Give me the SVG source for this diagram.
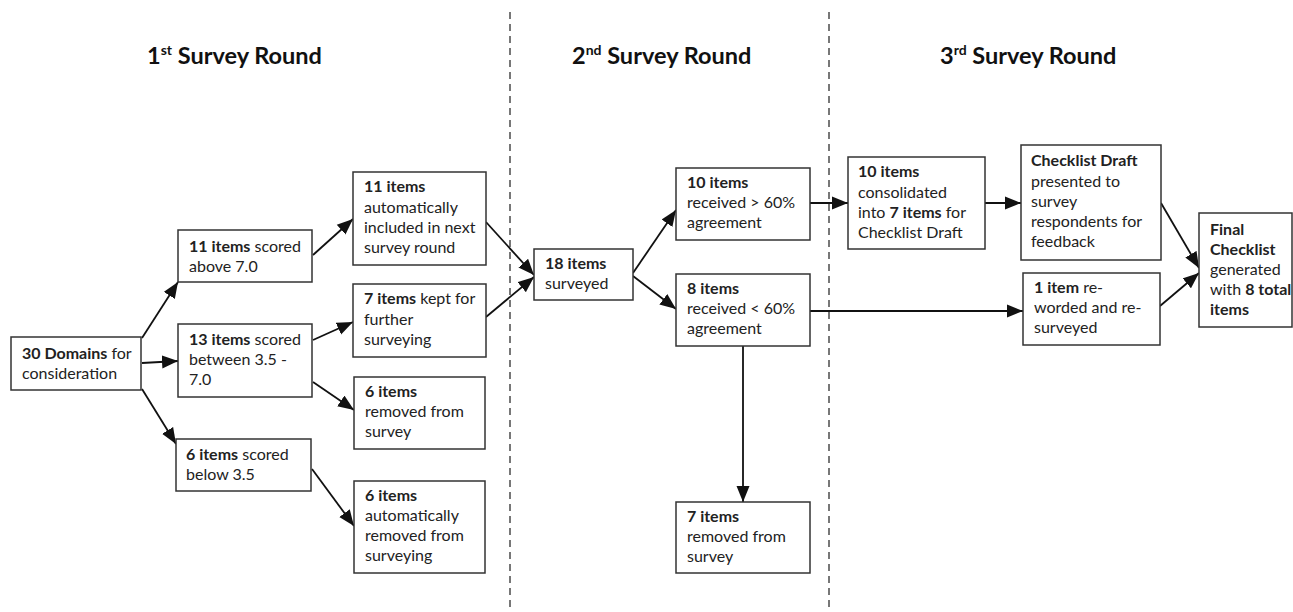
<svg xmlns="http://www.w3.org/2000/svg" width="1293" height="612" viewBox="0 0 1293 612">
<defs>
<marker id="ah" markerUnits="userSpaceOnUse" markerWidth="17" markerHeight="14" refX="16" refY="7" orient="auto">
<path d="M0,0.5 L16,7 L0,13.5 z" fill="#111"/>
</marker>
<style>
.box{fill:#fff;stroke:#333;stroke-width:1.5}
.t{font-family:Lato,"Open Sans","Liberation Sans",sans-serif;font-size:16px;fill:#222}
.b{font-weight:bold}
.title{font-family:Lato,"Open Sans","Liberation Sans",sans-serif;font-size:23.5px;font-weight:bold;fill:#111}
.sup{font-size:14px}
.c{fill:none;stroke:#111;stroke-width:1.8;marker-end:url(#ah)}
.div{stroke:#777;stroke-width:2;stroke-dasharray:7 5}
</style>
</defs>
<rect width="1293" height="612" fill="#fff"/>
<g id="dividers">
<line class="div" x1="510" y1="12" x2="510" y2="612"/>
<line class="div" x1="829" y1="12" x2="829" y2="612"/>
</g>
<g id="titles">
<text class="title" x="147" y="64">1<tspan class="sup" dy="-9">st</tspan><tspan dy="9"> Survey Round</tspan></text>
<text class="title" x="572" y="64">2<tspan class="sup" dy="-9">nd</tspan><tspan dy="9"> Survey Round</tspan></text>
<text class="title" x="940" y="64">3<tspan class="sup" dy="-9">rd</tspan><tspan dy="9"> Survey Round</tspan></text>
</g>
<g id="connectors">
<line class="c" x1="142" y1="338" x2="178" y2="282"/>
<line class="c" x1="142" y1="363" x2="178" y2="361"/>
<line class="c" x1="142" y1="389" x2="176" y2="444"/>
<line class="c" x1="313" y1="255" x2="353" y2="219"/>
<line class="c" x1="313" y1="340" x2="353" y2="322"/>
<line class="c" x1="313" y1="382" x2="354" y2="410"/>
<line class="c" x1="312" y1="469" x2="354" y2="526"/>
<line class="c" x1="486" y1="222" x2="534" y2="275"/>
<line class="c" x1="486" y1="317" x2="534" y2="277"/>
<line class="c" x1="633" y1="273" x2="676" y2="210"/>
<line class="c" x1="633" y1="276" x2="676" y2="309"/>
<line class="c" x1="810" y1="203" x2="848" y2="203"/>
<line class="c" x1="810" y1="311" x2="1023" y2="311"/>
<line class="c" x1="743" y1="346" x2="743" y2="502"/>
<line class="c" x1="985" y1="203" x2="1021" y2="203"/>
<line class="c" x1="1161" y1="203" x2="1199" y2="268"/>
<line class="c" x1="1160" y1="306" x2="1199" y2="273"/>
</g>
<g id="n30">
<rect class="box" x="11" y="337" width="130" height="53"/>
<text class="t" x="22" y="359"><tspan class="b">30 Domains</tspan> for</text>
<text class="t" x="22" y="379">consideration</text>
</g>
<g id="n11s">
<rect class="box" x="178" y="230" width="134" height="52"/>
<text class="t" x="189" y="252"><tspan class="b">11 items</tspan> scored</text>
<text class="t" x="189" y="272">above 7.0</text>
</g>
<g id="n13s">
<rect class="box" x="178" y="324" width="134" height="73"/>
<text class="t" x="189" y="345"><tspan class="b">13 items</tspan> scored</text>
<text class="t" x="189" y="365">between 3.5 -</text>
<text class="t" x="189" y="385">7.0</text>
</g>
<g id="n6s">
<rect class="box" x="176" y="439" width="135" height="52"/>
<text class="t" x="186" y="460"><tspan class="b">6 items</tspan> scored</text>
<text class="t" x="186" y="480">below 3.5</text>
</g>
<g id="n11a">
<rect class="box" x="353" y="172" width="133" height="93"/>
<text class="t" x="364" y="192" font-weight="bold">11 items</text>
<text class="t" x="364" y="213">automatically</text>
<text class="t" x="364" y="233">included in next</text>
<text class="t" x="364" y="253">survey round</text>
</g>
<g id="n7k">
<rect class="box" x="353" y="284" width="133" height="73"/>
<text class="t" x="364" y="304"><tspan class="b">7 items</tspan> kept for</text>
<text class="t" x="364" y="325">further</text>
<text class="t" x="364" y="345">surveying</text>
</g>
<g id="n6r">
<rect class="box" x="354" y="377" width="131" height="72"/>
<text class="t" x="365" y="397" font-weight="bold">6 items</text>
<text class="t" x="365" y="417">removed from</text>
<text class="t" x="365" y="437">survey</text>
</g>
<g id="n6a">
<rect class="box" x="354" y="481" width="131" height="92"/>
<text class="t" x="365" y="501" font-weight="bold">6 items</text>
<text class="t" x="365" y="521">automatically</text>
<text class="t" x="365" y="541">removed from</text>
<text class="t" x="365" y="561">surveying</text>
</g>
<g id="n18">
<rect class="box" x="534" y="249" width="99" height="51"/>
<text class="t" x="545" y="269" font-weight="bold">18 items</text>
<text class="t" x="545" y="289">surveyed</text>
</g>
<g id="n10r">
<rect class="box" x="676" y="168" width="134" height="72"/>
<text class="t" x="687" y="188" font-weight="bold">10 items</text>
<text class="t" x="687" y="208">received &gt; 60%</text>
<text class="t" x="687" y="228">agreement</text>
</g>
<g id="n8r">
<rect class="box" x="676" y="274" width="134" height="72"/>
<text class="t" x="687" y="294" font-weight="bold">8 items</text>
<text class="t" x="687" y="314">received &lt; 60%</text>
<text class="t" x="687" y="334">agreement</text>
</g>
<g id="n7r">
<rect class="box" x="676" y="502" width="134" height="71"/>
<text class="t" x="687" y="522" font-weight="bold">7 items</text>
<text class="t" x="687" y="542">removed from</text>
<text class="t" x="687" y="562">survey</text>
</g>
<g id="n10c">
<rect class="box" x="848" y="157" width="137" height="92"/>
<text class="t" x="858" y="177" font-weight="bold">10 items</text>
<text class="t" x="858" y="198">consolidated</text>
<text class="t" x="858" y="218">into <tspan class="b">7 items</tspan> for</text>
<text class="t" x="858" y="238">Checklist Draft</text>
</g>
<g id="ncd">
<rect class="box" x="1021" y="145" width="140" height="115"/>
<text class="t" x="1031" y="166" font-weight="bold">Checklist Draft</text>
<text class="t" x="1031" y="187">presented to</text>
<text class="t" x="1031" y="207">survey</text>
<text class="t" x="1031" y="227">respondents for</text>
<text class="t" x="1031" y="247">feedback</text>
</g>
<g id="n1i">
<rect class="box" x="1023" y="273" width="137" height="72"/>
<text class="t" x="1034" y="293"><tspan class="b">1 item</tspan> re-</text>
<text class="t" x="1034" y="313">worded and re-</text>
<text class="t" x="1034" y="333">surveyed</text>
</g>
<g id="nfc">
<rect class="box" x="1199" y="213" width="93" height="114"/>
<text class="t" x="1210" y="235" font-weight="bold">Final</text>
<text class="t" x="1210" y="255" font-weight="bold">Checklist</text>
<text class="t" x="1210" y="275">generated</text>
<text class="t" x="1210" y="295">with <tspan class="b">8 total</tspan></text>
<text class="t" x="1210" y="315" font-weight="bold">items</text>
</g>
</svg>
